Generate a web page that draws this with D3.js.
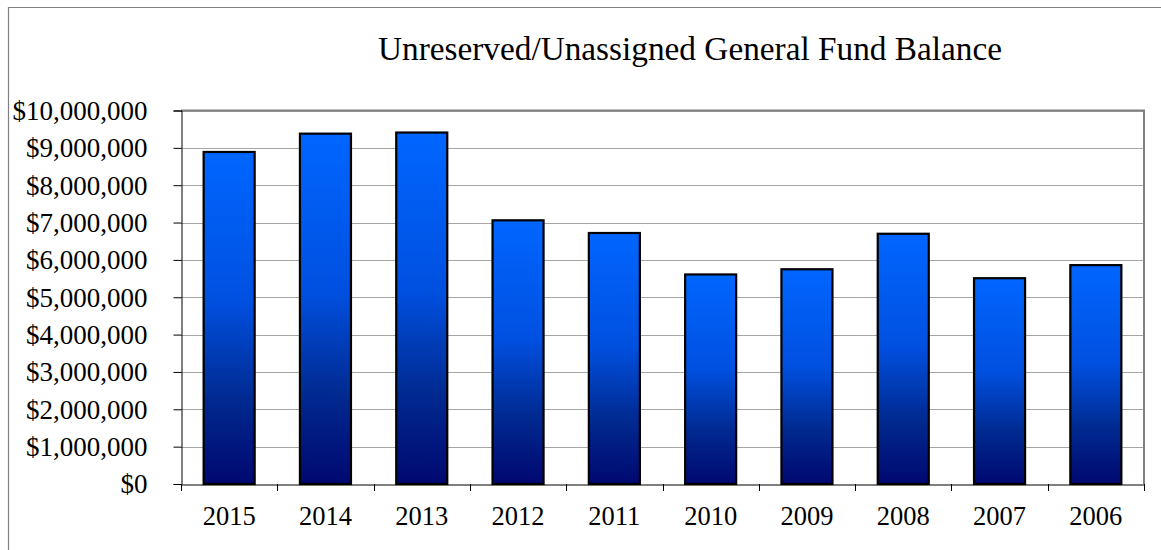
<!DOCTYPE html>
<html><head><meta charset="utf-8">
<script src="https://cdn.jsdelivr.net/npm/d3@7"></script>
<style>body{margin:0;background:#fff}svg{display:block}</style>
</head><body>
<svg id="c" width="1161" height="550"></svg>
<script>
const categories = ["2015","2014","2013","2012","2011","2010","2009","2008","2007","2006"];
const values = [8890000, 9380000, 9410000, 7060000, 6720000, 5610000, 5750000, 6700000, 5510000, 5860000];
const yTicks = [0,1000000,2000000,3000000,4000000,5000000,6000000,7000000,8000000,9000000,10000000];
const title = "Unreserved/Unassigned General Fund Balance";

const svg = d3.select("#c");
const L = 181, R = 1144, T = 110.5, B = 484;
const font = "'Liberation Serif','Times New Roman',serif";

// outer border
svg.append("path").attr("d", "M8.5,550 V7.5 H1161").attr("fill","none").attr("stroke","#808080").attr("stroke-width",1.2);

const x = d3.scaleBand().domain(categories).range([L, R]).paddingInner(0.47).paddingOuter(0.235);
const xb = d3.scaleBand().domain(categories).range([L, R]);
const y = d3.scaleLinear().domain([0, 10000000]).range([B, T]);

const defs = svg.append("defs");
const g = defs.append("linearGradient").attr("id","bg").attr("x1",0).attr("y1",0).attr("x2",0).attr("y2",1);
[["0%","#0066ff"],["45%","#0050e0"],["75%","#00298f"],["100%","#000870"]].forEach(s =>
  g.append("stop").attr("offset",s[0]).attr("stop-color",s[1]));

// gridlines
svg.append("g").selectAll("line").data(yTicks.slice(1)).join("line")
  .attr("x1", L).attr("x2", R).attr("y1", d => Math.round(y(d))+0.5).attr("y2", d => Math.round(y(d))+0.5)
  .attr("stroke", "#a6a6a6").attr("stroke-width", 1);

// top & right border of plot
svg.append("path").attr("d", `M${L},${T} H${R} V${B}`).attr("fill","none").attr("stroke","#808080").attr("stroke-width",2);

// bars
svg.append("g").selectAll("rect").data(values).join("rect")
  .attr("x", (d,i) => x(categories[i]))
  .attr("width", x.bandwidth())
  .attr("y", d => y(d))
  .attr("height", d => B - y(d))
  .attr("fill", "url(#bg)")
  .attr("stroke", "#000").attr("stroke-width", 2.2);

// y axis
const ya = svg.append("g").attr("transform", `translate(${L+0.5},0)`)
  .call(d3.axisLeft(y).tickValues(yTicks).tickSize(8).tickPadding(26)
    .tickFormat(d => "$" + d3.format(",")(d)));
ya.select(".domain").attr("stroke","#000");
ya.selectAll(".tick line").attr("stroke","#000");
ya.selectAll("text").attr("font-family", font).attr("font-size", 27).attr("fill","#000").attr("dy","0.33em");

// x axis
const xa = svg.append("g").attr("transform", `translate(0,${B+0.5})`)
  .call(d3.axisBottom(xb).tickSize(0).tickPadding(22));
xa.select(".domain").attr("stroke","#000");
xa.selectAll("text").attr("font-family", font).attr("font-size", 26.5).attr("fill","#000");
// category boundary ticks
svg.append("g").selectAll("line").data(d3.range(categories.length+1)).join("line")
  .attr("x1", i => Math.round(L + i*xb.step())+0.5).attr("x2", i => Math.round(L + i*xb.step())+0.5)
  .attr("y1", B).attr("y2", B+7).attr("stroke","#000");

// title
svg.append("text").attr("x", (378+1002)/2).attr("y", 60).attr("text-anchor","middle")
  .attr("font-family", font).attr("font-size", 33.3).attr("fill","#000").text(title);
</script>
</body></html>
